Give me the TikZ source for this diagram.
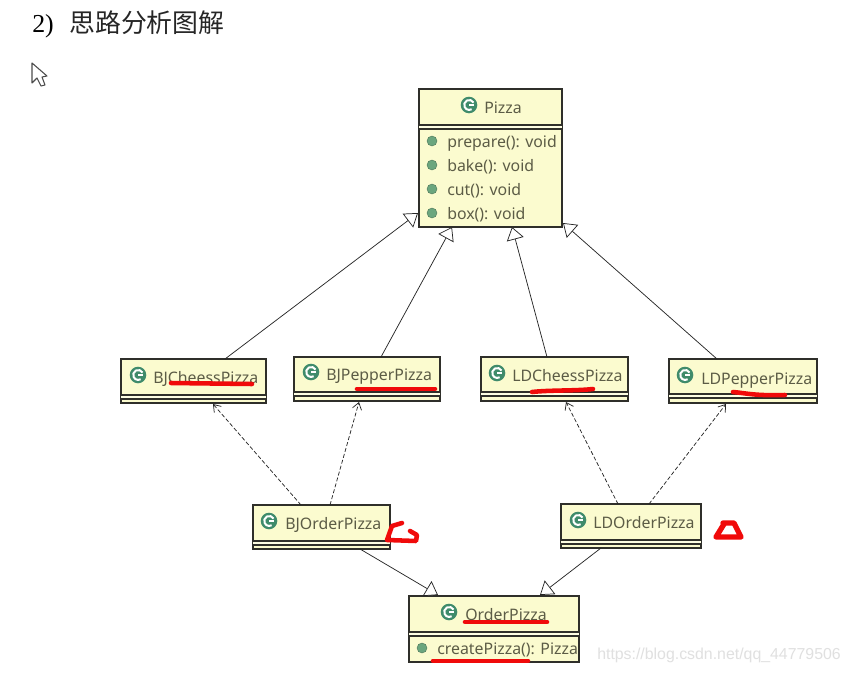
\documentclass[tikz,border=0pt]{standalone}
\usepackage{fontspec}
\setmainfont{Liberation Serif}
\newfontfamily\umlfont{Noto Sans}
\newfontfamily\wmfont{Liberation Sans}
\newfontfamily\cjkfont{Noto Sans CJK SC}
\usetikzlibrary{arrows.meta}
\definecolor{boxfill}{HTML}{FBFBCF}
\definecolor{boxline}{HTML}{2F2F2A}
\definecolor{umltext}{HTML}{5C5C46}
\definecolor{icongreen}{HTML}{3F8B6B}
\definecolor{dotgreen}{HTML}{6BA67E}
\definecolor{markred}{HTML}{F00A0A}
\tikzset{
  umlbox/.style={draw=boxline,fill=boxfill,line width=1pt,inner sep=0pt,outer sep=0pt},
  sepline/.style={draw=boxline,line width=1pt},
  umllabel/.style={font=\umlfont\fontsize{11.9pt}{14pt}\selectfont,text=umltext,anchor=mid west,inner sep=0pt},
  inherit/.style={draw=black!85,line width=.55pt,-{Triangle[length=9.5pt,width=13pt,fill=white]}},
  depend/.style={draw=black!85,line width=.55pt,dash pattern=on 3pt off 1.6pt,-{Straight Barb[length=5pt,width=7pt]}},
  redmark/.style={draw=markred,line width=3.4pt,line cap=round,line join=round},
}
% name, x1, y1, x2, y2, separator y
\newcommand\umlclass[6]{%
  \node[umlbox,minimum width={(#4-#2)*0.75pt},minimum height={(#5-#3)*0.75pt}] (#1) at ({(#2+#4)/2},{(#3+#5)/2}) {};
  \fill[white!40!boxfill] (#2,#6) rectangle (#4,#6+4);
  \draw[sepline] (#2,#6) -- (#4,#6);
  \draw[sepline] (#2,#6+4) -- (#4,#6+4);
}
\newcommand\gicon[2]{%
  \fill[icongreen] (#1,#2) circle[radius=8.3];
  \draw[white,line width=1.5pt] ({#1+4.6},{#2-2.4}) arc[start angle=-28,end angle=-300,radius=5];
  \draw[white,line width=1.2pt] (#1,#2) -- ({#1+4.8},#2);
}
\newcommand\umldot[2]{\fill[dotgreen,draw=dotgreen!70!black,line width=.3pt] (#1,#2) circle[radius=5];}
\begin{document}
\begin{tikzpicture}[x=0.75pt,y=-0.75pt]
\useasboundingbox (0,0) rectangle (851,675);
\fill[white] (0,0) rectangle (851,675);

% title and cursor
\node[anchor=base west,inner sep=0pt,font=\fontsize{19.4pt}{22pt}\selectfont] (title) at (32,32) {2)};
\node[anchor=base west,inner sep=0pt,font=\cjkfont\fontsize{19.4pt}{22pt}\selectfont,text=black!85] (titlecjk) at (69,32) {思路分析图解};
\draw[black!70,line width=.8pt,fill=white,line join=round] (32,63) -- (32,83) -- (37,78) -- (41,86) -- (45,85) -- (42,77) -- (47,76) -- cycle;

% classes
\umlclass{pizza}{419}{89}{562}{227}{125}
\umlclass{bjcheess}{121}{359}{266}{403}{395}
\umlclass{bjpepper}{294}{357}{440}{401}{392}
\umlclass{ldcheess}{481}{357}{628}{401}{392}
\umlclass{ldpepper}{669}{359}{817}{403}{394}
\umlclass{bjorder}{253}{505}{390}{549}{541}
\umlclass{ldorder}{561}{504}{701}{548}{540}
\umlclass{order}{409}{596}{579}{662}{632}

% connectors
\draw[inherit] ([shift={(104,0)}]bjcheess.north west) -- ([shift={(-1,-14)}]pizza.south west);
\draw[inherit] ([shift={(87,0)}]bjpepper.north west) -- ([shift={(33,0)}]pizza.south west);
\draw[inherit] ([shift={(66,0)}]ldcheess.north west) -- ([shift={(93,0)}]pizza.south west);
\draw[inherit] ([shift={(48,0)}]ldpepper.north west) -- ([shift={(1,-4)}]pizza.south east);
\draw[depend] ([shift={(48,0)}]bjorder.north west) -- ([shift={(92,1)}]bjcheess.south west);
\draw[depend] ([shift={(77,0)}]bjorder.north west) -- ([shift={(65,1)}]bjpepper.south west);
\draw[depend] ([shift={(57,0)}]ldorder.north west) -- ([shift={(85,1)}]ldcheess.south west);
\draw[depend] ([shift={(88,0)}]ldorder.north west) -- ([shift={(57,1)}]ldpepper.south west);
\draw[inherit] ([shift={(107,0)}]bjorder.south west) -- ([shift={(29,-1)}]order.north west);
\draw[inherit] ([shift={(40,0)}]ldorder.south west) -- ([shift={(131,-1)}]order.north west);

% class names
\gicon{469}{105}\node[umllabel] (tpizza) at (484,110) {Pizza};
\gicon{138}{375}\node[umllabel] (tbjc) at (153,380) {BJCheessPizza};
\gicon{311}{372}\node[umllabel] (tbjp) at (326,377) {BJPepperPizza};
\gicon{497}{373}\node[umllabel] (tldc) at (512,378) {LDCheessPizza};
\gicon{685}{375}\node[umllabel] (tldp) at (701,381) {LDPepperPizza};
\gicon{269}{521}\node[umllabel] (tbjo) at (285,526) {BJOrderPizza};
\gicon{578}{520}\node[umllabel] (tldo) at (593,525) {LDOrderPizza};
\gicon{449}{612}\node[umllabel] (tord) at (465,617) {OrderPizza};

% methods
\umldot{432}{141}\node[umllabel] (m1) at (447,144) {prepare(): void};
\umldot{432}{165}\node[umllabel] (m2) at (447,168) {bake(): void};
\umldot{432}{189}\node[umllabel] (m3) at (447,192) {cut(): void};
\umldot{432}{213}\node[umllabel] (m4) at (447,216) {box(): void};
\umldot{422}{648}\node[umllabel] (m5) at (437,651) {createPizza(): Pizza};

% red annotations
\draw[redmark] (171,383) -- (252,384);
\draw[redmark] (357,389) -- (435,389);
\draw[redmark] (532,392) .. controls (550,390) and (575,391) .. (593,389);
\draw[redmark] (733,392) .. controls (745,393) and (755,396) .. (785,395);
\draw[redmark] (465,622) -- (547,622);
\draw[redmark] (433,661) -- (528,661);
\draw[redmark] (402,523) -- (392,526) -- (387,540) -- (416,541) -- (417,535) -- (410,531);
\draw[redmark,line width=4pt] (723,523) -- (734,523) -- (741,537) -- (716,537) -- (724,524);

% watermark
\node[anchor=mid west,inner sep=0pt,text=black!12,font=\wmfont\fontsize{11.9pt}{14pt}\selectfont] (wm) at (597,656) {https://blog.csdn.net/qq\_44779506};
\end{tikzpicture}
\end{document}
